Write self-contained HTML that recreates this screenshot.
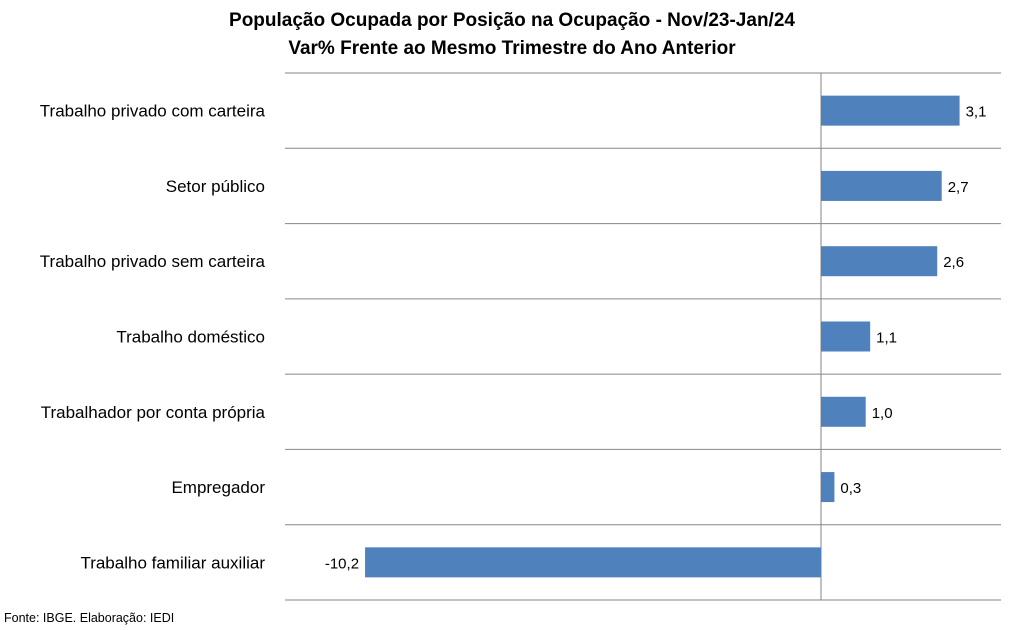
<!DOCTYPE html>
<html><head><meta charset="utf-8"><style>
body{margin:0;background:#fff;font-family:"Liberation Sans",sans-serif;}
svg{display:block}
</style></head><body>
<svg width="1011" height="630">
<text x="512" y="26" text-anchor="middle" font-size="19" font-weight="bold" fill="#000">População Ocupada por Posição na Ocupação - Nov/23-Jan/24</text>
<text x="512" y="54" text-anchor="middle" font-size="19" font-weight="bold" fill="#000">Var% Frente ao Mesmo Trimestre do Ano Anterior</text>
<g id="plot"></g>
<text x="4" y="622" font-size="12.5" fill="#000">Fonte: IBGE. Elaboração: IEDI</text>
</svg>
<script>
const categories=["Trabalho privado com carteira","Setor público","Trabalho privado sem carteira","Trabalho doméstico","Trabalhador por conta própria","Empregador","Trabalho familiar auxiliar"];
const values=[3.1,2.7,2.6,1.1,1.0,0.3,-10.2];
const valueLabels=["3,1","2,7","2,6","1,1","1,0","0,3","-10,2"];
const NS="http://www.w3.org/2000/svg";
const g=document.getElementById("plot");
const top0=73,bottom=600,left=285,right=1001,zeroX=821,scale=44.7;
const rowH=(bottom-top0)/categories.length;
const xs=v=>zeroX+v*scale;
function mk(t,a){const e=document.createElementNS(NS,t);for(const k in a)e.setAttribute(k,a[k]);g.appendChild(e);return e;}
for(let i=0;i<=categories.length;i++){
  const y=top0+i*rowH;
  const l=mk("line",{x1:left,x2:right,y1:y,y2:y,stroke:"#868686","stroke-width":1});
  
  
}
const ax=mk("line",{x1:zeroX,x2:zeroX,y1:top0,y2:bottom,stroke:"#868686","stroke-width":1});


categories.forEach((c,i)=>{
  const cy=top0+(i+0.5)*rowH;
  const v=values[i];
  const x0=Math.min(xs(0),xs(v)),w=Math.abs(xs(v)-xs(0));
  const r=mk("rect",{x:x0,y:cy-15,width:w,height:30,fill:"#4f81bd"});
  
  
  const t=mk("text",{x:265,y:cy+6,"text-anchor":"end","font-size":17,fill:"#000"});
  t.textContent=c;
  
  
  const vl=mk("text",{x:v>=0?xs(v)+6:xs(v)-6,y:cy+6,"text-anchor":v>=0?"start":"end","font-size":15,fill:"#000"});
  vl.textContent=valueLabels[i];
  
  
});
</script>
</body></html>
